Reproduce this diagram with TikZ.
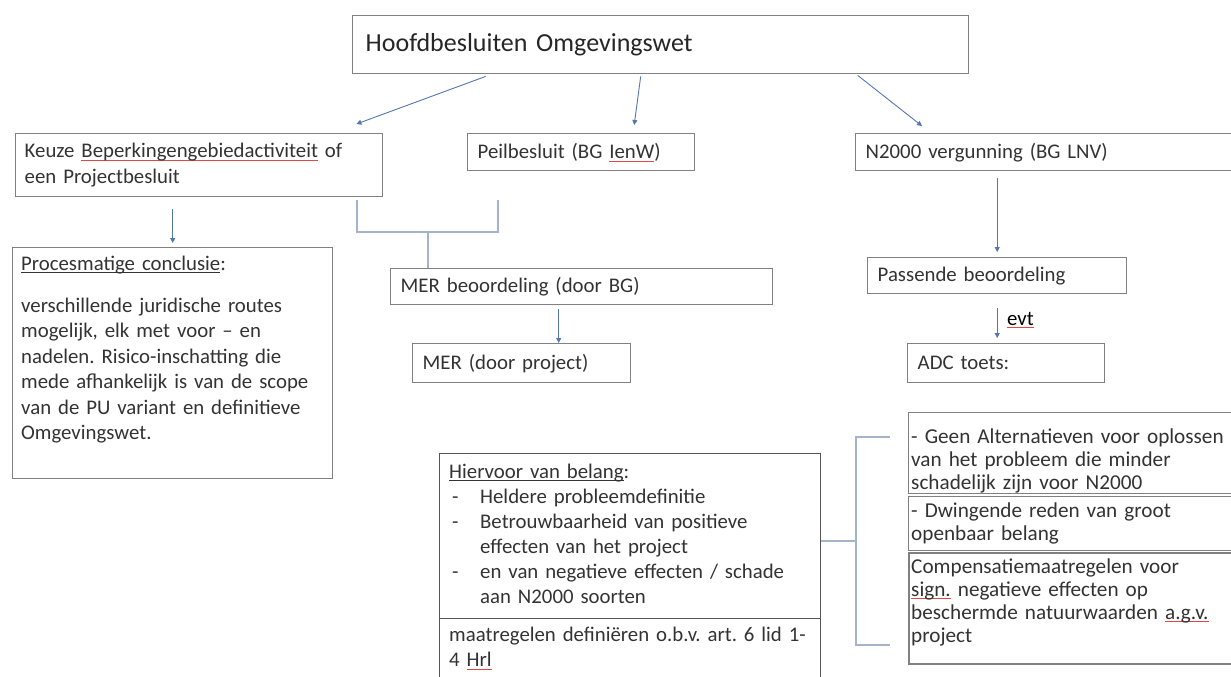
\documentclass[tikz,border=0pt]{standalone}
\usepackage{fontspec}
\setmainfont{Carlito}
\usetikzlibrary{arrows.meta,calc}
\definecolor{boxc}{HTML}{808080}
\definecolor{darkbox}{HTML}{555555}
\definecolor{arrc}{HTML}{5577B0}
\definecolor{brkc}{HTML}{A3B4CC}
\definecolor{txt}{HTML}{333333}
\definecolor{spellc}{HTML}{E04848}
\newcommand\spl[1]{\setbox0\hbox{#1}\leavevmode\rlap{{\color{spellc}\rule[-3pt]{\wd0}{0.8pt}}}\box0\relax}
\newcommand\ulin[1]{\setbox0\hbox{#1}\leavevmode\rlap{\rule[-2.5pt]{\wd0}{0.8pt}}\box0\relax}
\newcommand\bodyfont{\fontsize{20.8}{25.5}\selectfont}
\newcommand\stackfont{\fontsize{21.2}{23}\selectfont}
\newcommand\titlefont{\fontsize{26}{30}\selectfont}
\frenchspacing
\begin{document}
\begin{tikzpicture}[x=1pt,y=-1pt,
  box/.style={draw=boxc, line width=1.4pt, fill=white, anchor=north west, inner xsep=10pt, inner ysep=0pt, align=left, text=txt, font=\bodyfont},
  txtn/.style={inner sep=0pt, align=left, text=txt, font=\bodyfont, anchor=base west},
  arr/.style={draw=arrc, line width=0.9pt, -{Triangle[length=5pt,width=5pt]}},
  brk/.style={draw=brkc, line width=1.2pt}]
\useasboundingbox (0,0) rectangle (1231,677);
\clip (0,0) rectangle (1231,677);
\fill[white] (0,0) rectangle (1231,677);

% top
\node[box, font=\titlefont, minimum width=616pt, minimum height=58pt, text width=590pt, inner xsep=13pt, text=black!85] (title) at (352,15) {Hoofdbesluiten Omgevingswet};

% level 2
\node[box, minimum width=367pt, minimum height=63pt, text width=349pt, inner xsep=9pt] (keuze) at (15,133) {Keuze \spl{Beperkingengebiedactiviteit} of\\een Projectbesluit};
\node[box, minimum width=227pt, minimum height=37pt, text width=207pt] (peil) at (467,133) {Peilbesluit (BG \spl{IenW})};
\node[box, minimum width=385pt, minimum height=37pt, text width=365pt] (n2k) at (855,133) {N2000 vergunning (BG LNV)};

\draw[arr] ([xshift=-175pt,yshift=-2pt]title.south) -- ([xshift=-27pt,yshift=9pt]keuze.north east);
\draw[arr] ([xshift=-20pt,yshift=-2pt]title.south) -- ([xshift=53pt,yshift=8pt]peil.north);
\draw[arr] ([xshift=197pt,yshift=-1pt]title.south) -- ([xshift=67pt,yshift=7pt]n2k.north west);

% left column
\node[box, minimum width=320pt, minimum height=231pt] (proc) at (12,247) {};
\node[txtn, text width=310pt] (proct) at (21,270) {\ulin{Procesmatige conclusie}:\\[16.5pt]
verschillende juridische routes\\
mogelijk, elk met voor -- en\\
nadelen. Risico-inschatting die\\
mede afhankelijk is van de scope\\
van de PU variant en definitieve\\
Omgevingswet.};
\draw[arr] ([yshift=-12pt]proc.north |- keuze.south) -- ([yshift=4pt]proc.north);

% middle column
\node[box, minimum width=382pt, minimum height=36pt, text width=362pt] (merb) at (390,268) {MER beoordeling (door BG)};
\node[box, minimum width=218pt, minimum height=39pt, text width=198pt] (merp) at (412,343) {MER (door project)};
\coordinate (bl) at (357,200);
\coordinate (br) at (498,200);
\coordinate (bm) at (428,232);
\draw[brk] (bl) |- (bm) -| (br);
\draw[brk] (bm) -- (bm |- merb.north);
\draw[arr] ([xshift=-23pt,yshift=-4pt]merb.south) -- ([xshift=-23pt]merb.south |- merp.north);

% right column
\node[box, minimum width=259pt, minimum height=36pt, text width=239pt] (pas) at (867,257) {Passende beoordeling};
\node[box, minimum width=197pt, minimum height=39pt, text width=177pt] (adc) at (907,343) {ADC toets:};
\draw[arr] ([yshift=-7pt]pas.north |- n2k.south) -- ([yshift=5pt]pas.north);
\draw[arr] ([yshift=-14pt]pas.south) -- ([yshift=5pt]pas.south |- adc.north);
\node[font=\bodyfont, text=black, anchor=base west, inner sep=0pt] (evt) at (1007,325) {\spl{evt}};

% Hiervoor
\node[box, draw=darkbox, minimum width=381pt, minimum height=165pt] (hier) at (439,453) {};
\node[box, draw=darkbox, minimum width=381pt, minimum height=70pt] (maat) at (439,618) {};
\node[txtn, text width=370pt, font=\fontsize{20.8}{25}\selectfont] (hiert) at (449,478) {\ulin{Hiervoor van belang}:\\
\hspace*{3pt}\makebox[28pt][l]{-}Heldere probleemdefinitie\\
\hspace*{3pt}\makebox[28pt][l]{-}Betrouwbaarheid van positieve\\
\hspace*{31pt}effecten van het project\\
\hspace*{3pt}\makebox[28pt][l]{-}en van negatieve effecten / schade\\
\hspace*{31pt}aan N2000 soorten};
\node[txtn, text width=370pt] (maatt) at (449,641) {maatregelen definiëren o.b.v. art. 6 lid 1-\\4 \spl{Hrl}};

% ADC criteria stack
\node[box, minimum width=330pt, minimum height=81pt] (alt) at (908,412) {};
\node[box, minimum width=330pt, minimum height=54pt] (dwing) at (908,496) {};
\node[box, minimum width=330pt, minimum height=111pt, line width=1.6pt] (comp) at (908,552) {};
\node[txtn, font=\stackfont, text width=320pt] (altt) at (911,443) {- Geen Alternatieven voor oplossen\\van het probleem die minder\\schadelijk zijn voor N2000};
\node[txtn, font=\stackfont, text width=320pt] (dwingt) at (911,517) {- Dwingende reden van groot\\openbaar belang};
\node[txtn, font=\stackfont, text width=320pt] (compt) at (911,573) {Compensatiemaatregelen voor\\\spl{sign.} negatieve effecten op\\beschermde natuurwaarden \spl{a.g.v.}\\project};

% bracket
\coordinate (bt) at (890,437);
\coordinate (bb) at (890,645);
\coordinate (bx) at (856,541);
\draw[brk] (bt) -| (bx) |- (bb);
\draw[brk] (hier.east |- bx) -- (bx);
\end{tikzpicture}
\end{document}
